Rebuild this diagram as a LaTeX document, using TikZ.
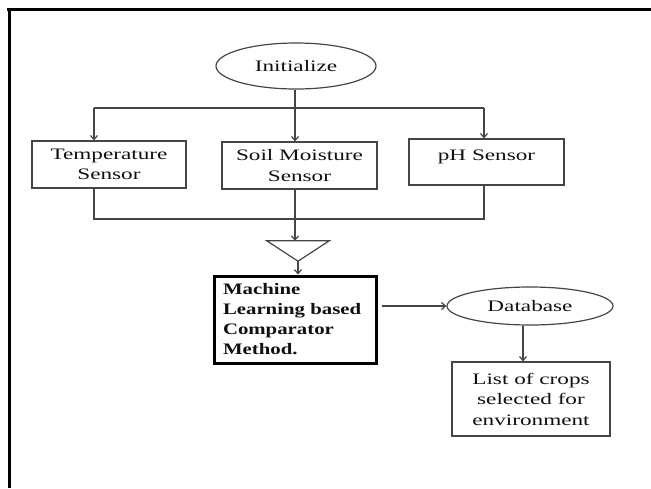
\documentclass[tikz,border=0pt]{standalone}
\usepackage{fontspec}
\setmainfont{Liberation Serif}[FakeStretch=1.45]
\newfontfamily\mlfont{Liberation Serif}[FakeStretch=1.3]
\usetikzlibrary{shapes.geometric,arrows.meta}
\definecolor{ln}{HTML}{454545}
\definecolor{tx}{HTML}{101010}
\begin{document}
\begin{tikzpicture}[x=1pt,y=-1pt,
  font=\fontsize{16}{20.5}\selectfont,
  ln/.style={draw=ln,line width=1.2pt},
  arr/.style={ln,-{Straight Barb[length=4pt,width=7pt]}},
  box/.style={ln,rectangle,inner sep=0pt,align=center,text=tx},
  ell/.style={ln,ellipse,inner sep=0pt,text=tx},
  mlbox/.style={draw=black,line width=3pt,rectangle,inner xsep=9pt,inner ysep=0pt,
    text width=144pt,align=left,minimum height=87pt,font=\mlfont\bfseries\fontsize{16}{20}\selectfont,text=tx},
  trinode/.style={inner sep=0pt,minimum width=62pt,minimum height=20pt}]
\useasboundingbox (0,0) rectangle (651,488);
% frame
\draw[line width=2.6pt,black] (7,9.5) -- (651,9.5);
\draw[line width=3pt,black] (9,8.5) -- (9,488);
% nodes
\node[ell,minimum width=160pt,minimum height=46pt] (init) at (296,66) {Initialize};
\node[box,minimum width=154pt,minimum height=47pt] (temp) at (109,164.5) {Temperature\\Sensor};
\node[box,minimum width=155pt,minimum height=47pt] (soil) at (299.5,165.5) {Soil Moisture\\Sensor};
\node[box,minimum width=155pt,minimum height=46pt] (ph) at (486.5,162) {\raisebox{0pt}[\height][\dimexpr\depth+10pt\relax]{pH Sensor}};
\node[trinode] (tri) at (298,251) {};
\node[mlbox] (ml) at (295,319.5) {Machine\\Learning based\\Comparator\\Method.};
\node[ell,minimum width=166pt,minimum height=38pt] (db) at (530,306) {Database};
\node[box,minimum width=158pt,minimum height=74pt] (list) at (531,399) {List of crops\\selected for\\environment};
% coordinates of the bars
\coordinate (b1) at (94,108);
\coordinate (b2) at (484,108);
\coordinate (j0) at (295,108);
\coordinate (d1) at (94,219);
\coordinate (d2) at (484,219);
% connectors
\draw[ln] (init.south -| j0) -- (j0);
\draw[ln] (b1) -- (b2);
\draw[arr] (b1) -- (b1 |- temp.north);
\draw[arr] (j0) -- (j0 |- soil.north);
\draw[arr] (b2) -- (b2 |- ph.north);
\draw[ln] (d1 |- temp.south) -- (d1) -- (d2) -- (d2 |- ph.south);
\draw[arr] (j0 |- soil.south) -- (j0 |- tri.north);
\draw[ln] (tri.north west) -- (tri.north east) -- (tri.south) -- cycle;
\draw[arr] (tri.south) -- (tri.south |- ml.north);
\draw[arr] ([xshift=4pt]ml.east |- db.west) -- (db.west);
\draw[arr] ([xshift=-7pt]db.south) -- ([xshift=-7pt]db.south |- list.north);
\end{tikzpicture}
\end{document}
